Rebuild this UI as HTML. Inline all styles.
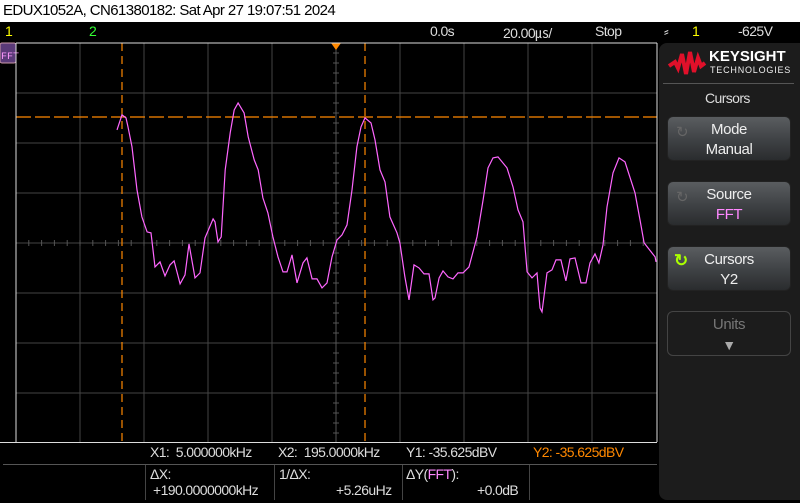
<!DOCTYPE html>
<html><head><meta charset="utf-8"><style>
body{margin:0;width:800px;height:503px;background:#000;overflow:hidden;font-family:"Liberation Sans",sans-serif;position:relative}
.t{position:absolute;white-space:nowrap;color:#ddd;font-size:14px;letter-spacing:-0.6px}
.btn{position:absolute;left:667px;width:124px;height:45px;border-radius:6px;background:linear-gradient(#5a5d60,#3e4144 55%,#2a2c2e);border:1px solid #222;color:#eee;font-size:15px;text-align:center;line-height:20px;box-sizing:border-box;padding-top:3px;letter-spacing:-0.4px}
</style></head><body>
<div style="position:absolute;left:0;top:0;width:800px;height:22px;background:#fff"></div>
<div class="t" style="left:3px;top:2px;color:#000;font-size:15px">EDUX1052A, CN61380182: Sat Apr 27 19:07:51 2024</div>
<div class="t" style="left:5px;top:23px;color:#ff0">1</div>
<div class="t" style="left:89px;top:23px;color:#3f3">2</div>
<div class="t" style="left:430px;top:23px">0.0s</div>
<div class="t" style="left:503px;top:23px">20.00㎲/</div>
<div class="t" style="left:595px;top:23px">Stop</div>
<div class="t" style="left:664px;top:23px">⸗</div>
<div class="t" style="left:692px;top:23px;color:#ff0">1</div>
<div class="t" style="left:738px;top:23px">-625V</div>

<svg width="800" height="503" style="position:absolute;left:0;top:0">
<g id="grid"></g>
<rect x="0" y="43" width="16" height="20" rx="2" fill="#5a3a78" stroke="#c9a"/>
<text x="1" y="59" fill="#f9f" font-size="10" font-family="Liberation Mono">FFT</text>
<g id="cursors"></g>
<polyline id="trace" fill="none" stroke="#f6f" stroke-width="1.2"/>
<polygon points="331,43 341,43 336,50" fill="#f80"/>
<line x1="16" y1="43" x2="657" y2="43" stroke="#ddd"/>
<line x1="16" y1="43" x2="16" y2="442" stroke="#ddd"/>
<line x1="657" y1="43" x2="657" y2="442" stroke="#ddd"/>
<line x1="0" y1="442.5" x2="657" y2="442.5" stroke="#ddd"/>
<line x1="3" y1="464.5" x2="657" y2="464.5" stroke="#555"/>
<line x1="145.5" y1="465" x2="145.5" y2="500" stroke="#444"/>
<line x1="274.5" y1="465" x2="274.5" y2="500" stroke="#444"/>
<line x1="402.5" y1="465" x2="402.5" y2="500" stroke="#444"/>
<line x1="529.5" y1="465" x2="529.5" y2="500" stroke="#444"/>
</svg>

<div style="position:absolute;left:659px;top:43px;width:141px;height:457px;background:#1c1c1c;border-radius:8px 0 0 8px"></div>
<svg style="position:absolute;left:667px;top:48px" width="40" height="30"><path d="M2,18 L8,14 L11,20 L15,6 L19,26 L23,4 L27,24 L31,10 L34,18 L38,15" stroke="#e0102a" stroke-width="4" fill="none"/></svg>
<div class="t" style="left:709px;top:48px;color:#fff;font-weight:bold;font-size:15px;letter-spacing:0">KEYSIGHT</div>
<div class="t" style="left:710px;top:65px;color:#eee;font-size:9px;letter-spacing:0.8px">TECHNOLOGIES</div>
<div style="position:absolute;left:663px;top:83px;width:131px;height:1px;background:#555"></div>
<div class="t" style="left:705px;top:90px">Cursors</div>
<div class="btn" style="top:116px"><span style="position:absolute;left:8px;top:6px;color:#666">↻</span>Mode<br>Manual</div>
<div class="btn" style="top:181px"><span style="position:absolute;left:8px;top:6px;color:#666">↻</span>Source<br><span style="color:#f8f">FFT</span></div>
<div class="btn" style="top:246px"><span style="position:absolute;left:6px;top:4px;color:#af0;font-weight:bold;font-size:17px">↻</span>Cursors<br>Y2</div>
<div class="btn" style="top:311px;background:#1c1c1c;border:1px solid #444;color:#777">Units<br><span style="color:#aaa;font-size:14px">▼</span></div>

<div class="t" style="left:150px;top:444px">X1:&nbsp; 5.000000kHz</div>
<div class="t" style="left:278px;top:444px">X2:&nbsp; 195.0000kHz</div>
<div class="t" style="left:406px;top:444px">Y1: -35.625dBV</div>
<div class="t" style="left:533px;top:444px;color:#f80">Y2: -35.625dBV</div>
<div class="t" style="left:150px;top:466px">ΔX:</div>
<div class="t" style="left:153px;top:482px">+190.0000000kHz</div>
<div class="t" style="left:279px;top:466px">1/ΔX:</div>
<div class="t" style="left:336px;top:482px">+5.26uHz</div>
<div class="t" style="left:406px;top:466px">ΔY(<span style="color:#f8f">FFT</span>):</div>
<div class="t" style="left:477px;top:482px">+0.0dB</div>

<script>
const freqKHz=[1.1,5.0,8.1,9.7,12.8,16.7,20.6,24.6,27.7,30.8,34.7,38.6,42.5,45.7,50.4,54.3,57.4,62.1,66.0,69.9,76.2,77.7,80.1,82.6,85.7,89.6,92.7,95.8,100.5,103.7,108.4,111.5,115.2,119.1,123.0,127.0,130.9,134.0,137.9,141.8,146.5,149.6,153.6,157.5,161.4,165.3,169.2,173.1,177.0,180.9,184.8,188.7,191.9,195.0,199.7,202.8,206.7,210.6,214.5,220.0,222.3,226.2,229.4,233.3,237.2,241.1,245.0,248.2,249.7,252.9,256.0,259.9,263.8,267.7,271.6,276.3,282.6,287.3,291.2,295.1,299.0,306.0,310.7,314.6,318.5,321.7,325.6,329.5,331.8,333.4,337.3,341.2,344.3,348.2,352.1,355.3,359.2,363.9,367.8,370.9,374.8,377.9,381.1,384.2,388.9,393.6,398.3,406.1,410.0,413.2,416.3,421.8,422.5];
const levelDBV=[-38.2,-35.2,-35.8,-37.6,-41.6,-50.2,-55.6,-58.6,-58.8,-65.6,-64.6,-67.4,-65.2,-64.4,-69.0,-67.2,-61.0,-67.8,-66.8,-59.8,-56.0,-56.6,-60.6,-59.6,-46.2,-38.8,-34.2,-32.8,-34.8,-39.6,-44.2,-46.2,-51.8,-54.8,-59.6,-63.6,-66.6,-66.6,-63.2,-68.8,-64.8,-63.8,-68.0,-68.0,-69.8,-68.8,-63.6,-60.2,-59.2,-57.2,-50.2,-41.6,-37.6,-35.8,-36.8,-40.2,-46.2,-48.6,-55.6,-58.8,-60.8,-67.6,-72.2,-65.2,-65.8,-67.0,-67.0,-72.2,-71.8,-67.8,-66.4,-67.6,-68.0,-66.8,-66.8,-65.6,-59.6,-52.2,-45.8,-43.8,-43.6,-45.8,-49.6,-54.2,-56.6,-66.6,-67.8,-66.8,-73.8,-74.6,-66.8,-66.2,-64.2,-64.2,-68.4,-64.0,-63.8,-68.8,-68.8,-64.8,-63.0,-64.8,-61.2,-53.6,-46.8,-43.8,-44.6,-50.8,-56.2,-60.8,-61.8,-63.6,-64.6];
const cursorX=[5.0,195.0];
const cursorY=[-35.625];
const xS=f=>115.6+f*1.279;
const yS=v=>117+(-35.625-v)*5;
const NS="http://www.w3.org/2000/svg";
function mk(tag,attrs,parent){const e=document.createElementNS(NS,tag);for(const k in attrs)e.setAttribute(k,attrs[k]);parent.appendChild(e);return e;}
const grid=document.getElementById('grid');
for(let i=1;i<10;i++){const l=mk('line',{x1:16+64*i,y1:43,x2:16+64*i,y2:442,stroke:'#444'},grid);

}
for(let i=1;i<8;i++){const l=mk('line',{x1:16,y1:43+50*i,x2:657,y2:43+50*i,stroke:'#444'},grid);

}
for(let i=1;i<50;i++){const x=16+12.8*i;mk('line',{x1:x,y1:240,x2:x,y2:246,stroke:'#555'},grid);}
for(let i=1;i<40;i++){const y=43+10*i;mk('line',{x1:333,y1:y,x2:339,y2:y,stroke:'#555'},grid);}
mk('line',{x1:336,y1:43,x2:336,y2:442,stroke:'#555'},grid);
const cur=document.getElementById('cursors');
cursorX.forEach(f=>{const l=mk('line',{x1:xS(f),y1:43,x2:xS(f),y2:442,stroke:'#f80','stroke-dasharray':'8,5','stroke-width':1.2},cur);

});
cursorY.forEach(v=>{const l=mk('line',{x1:16,y1:yS(v),x2:657,y2:yS(v),stroke:'#f80','stroke-dasharray':'15,4','stroke-width':1.2},cur);

});
document.getElementById('trace').setAttribute('points',freqKHz.map((f,i)=>xS(f).toFixed(1)+','+yS(levelDBV[i]).toFixed(1)).join(' '));
</script>
</body></html>
